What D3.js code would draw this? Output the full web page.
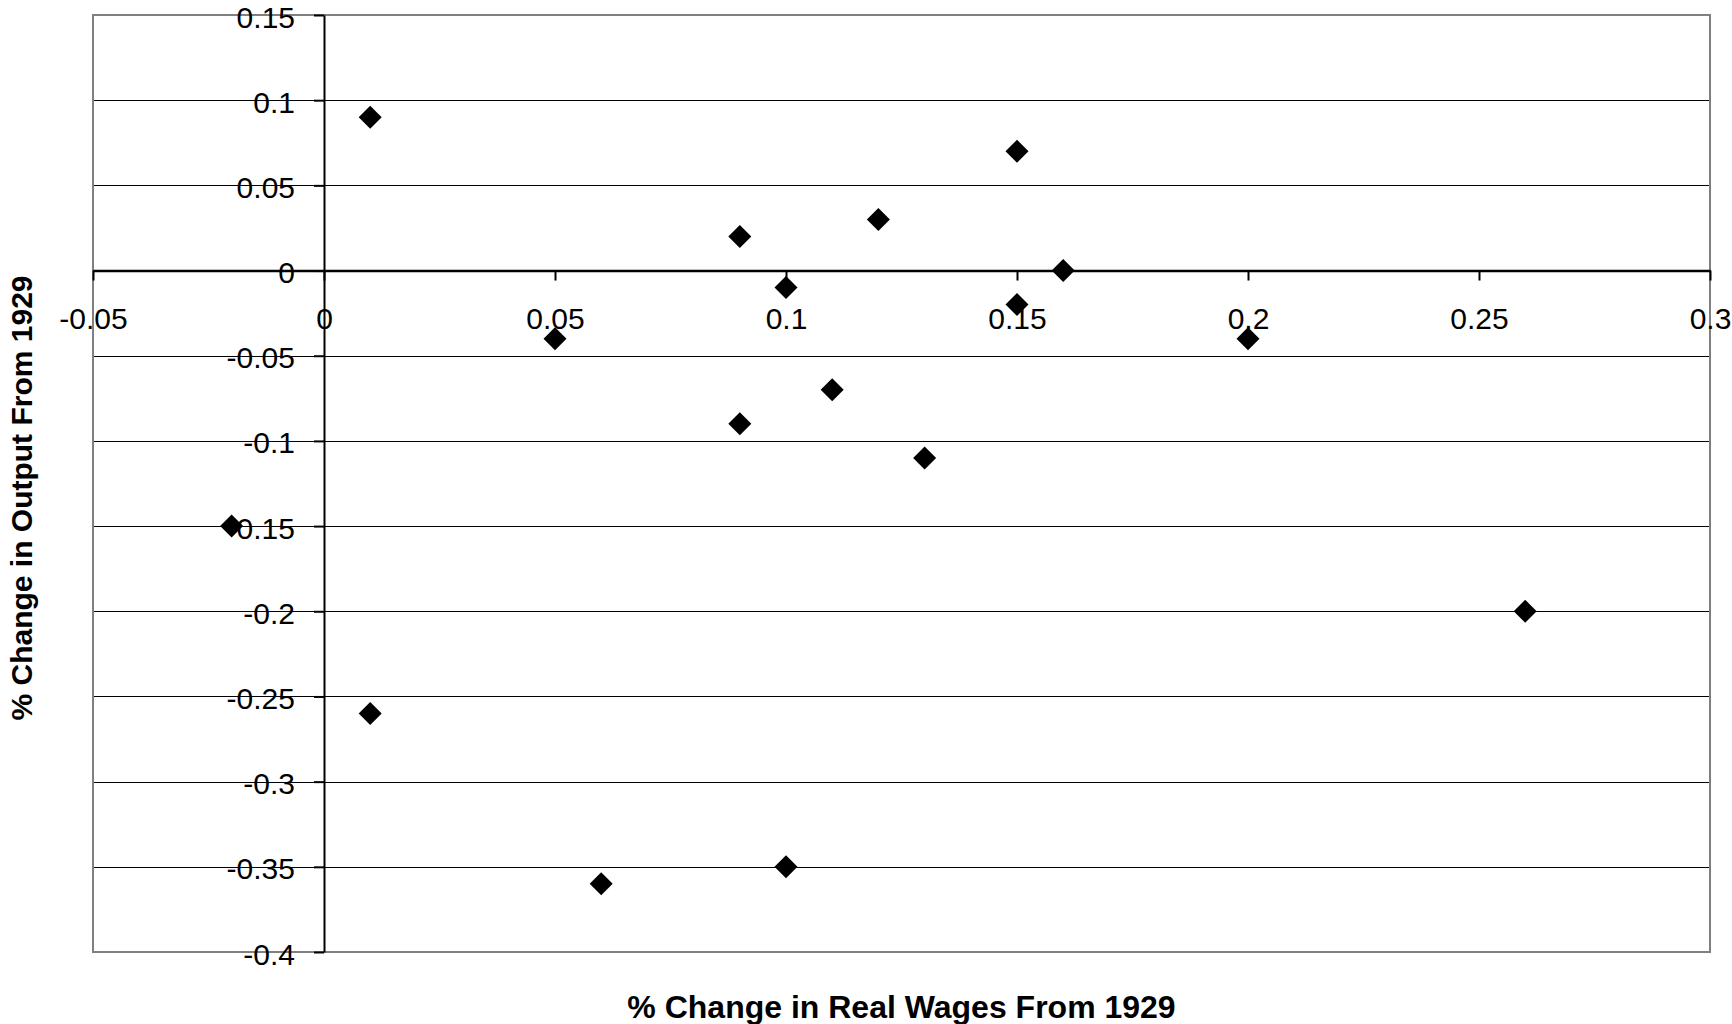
<!DOCTYPE html>
<html>
<head>
  <meta charset="utf-8">
  <script src="https://d3js.org/d3.v7.min.js"></script>
  <style>
    body, html { margin: 0; padding: 0; background: #fff; }
    svg { display: block; font-family: "Liberation Sans", Arial, Helvetica, sans-serif; }
  </style>
</head>
<body>
  <svg></svg>
  <script>
    // % change in real wages vs % change in output, both relative to 1929
    const wageChange   = [0.01, -0.02, 0.01, 0.05, 0.06, 0.09, 0.09, 0.10, 0.10, 0.11, 0.12, 0.13, 0.15, 0.15, 0.16, 0.20, 0.26];
    const outputChange = [0.09, -0.15, -0.26, -0.04, -0.36, 0.02, -0.09, -0.01, -0.35, -0.07, 0.03, -0.11, 0.07, -0.02, 0.00, -0.04, -0.20];
    const xTicks = [-0.05, 0, 0.05, 0.1, 0.15, 0.2, 0.25, 0.3];
    const yTicks = [0.15, 0.1, 0.05, 0, -0.05, -0.1, -0.15, -0.2, -0.25, -0.3, -0.35, -0.4];

    const width = 1732;
    const height = 1024;
    const marginTop = 15;
    const marginRight = 22;
    const marginBottom = 72;
    const marginLeft = 93;

    const points = wageChange.map((w, i) => ({ x: w, y: outputChange[i] }));

    const x = d3.scaleLinear()
      .domain([-0.05, 0.3])
      .range([marginLeft, width - marginRight]);

    const y = d3.scaleLinear()
      .domain([-0.4, 0.15])
      .range([height - marginBottom, marginTop]);

    const svg = d3.select("svg")
      .attr("width", width)
      .attr("height", height)
      .attr("viewBox", [0, 0, width, height]);

    // horizontal gridlines
    svg.append("g")
      .selectAll("line")
      .data(yTicks.filter(d => d !== 0 && d !== 0.15 && d !== -0.4))
      .join("line")
        .attr("x1", x(-0.05))
        .attr("x2", x(0.3))
        .attr("y1", d => Math.round(y(d)) + 0.5)
        .attr("y2", d => Math.round(y(d)) + 0.5)
        .attr("stroke", "#000")
        .attr("stroke-width", 1);

    // plot frame
    svg.append("rect")
      .attr("x", x(-0.05))
      .attr("y", y(0.15))
      .attr("width", x(0.3) - x(-0.05))
      .attr("height", y(-0.4) - y(0.15))
      .attr("fill", "none")
      .attr("stroke", "#808080")
      .attr("stroke-width", 2);

    // x axis through y = 0
    svg.append("g")
      .attr("transform", `translate(0,${y(0)})`)
      .call(d3.axisBottom(x).tickValues(xTicks).tickFormat(d => String(d)).tickSize(10).tickPadding(27).tickSizeOuter(0))
      .call(g => g.select(".domain").attr("stroke-width", 2.5))
      .call(g => g.selectAll(".tick line").attr("stroke-width", 2))
      .call(g => g.selectAll(".tick text").attr("font-size", 30).attr("font-family", null).attr("fill", "#000"));

    // y axis through x = 0
    svg.append("g")
      .attr("transform", `translate(${x(0)},0)`)
      .call(d3.axisLeft(y).tickValues(yTicks).tickFormat(d => String(d)).tickSize(10).tickPadding(19).tickSizeOuter(0))
      .call(g => g.select(".domain").attr("stroke-width", 2))
      .call(g => g.selectAll(".tick line").attr("stroke-width", 2))
      .call(g => g.selectAll(".tick text").attr("font-size", 30).attr("dy", "0.4em").attr("font-family", null).attr("fill", "#000"));

    // diamond markers
    svg.append("g")
      .selectAll("path")
      .data(points)
      .join("path")
        .attr("transform", d => `translate(${x(d.x)},${y(d.y)})`)
        .attr("d", "M0,-11.5L11.5,0L0,11.5L-11.5,0Z")
        .attr("fill", "#000");

    // axis titles
    svg.append("text")
      .attr("x", (x(-0.05) + x(0.3)) / 2)
      .attr("y", 1018)
      .attr("text-anchor", "middle")
      .attr("font-size", 32)
      .attr("font-weight", "bold")
      .text("% Change in Real Wages From 1929");

    svg.append("text")
      .attr("transform", `translate(32,498) rotate(-90)`)
      .attr("text-anchor", "middle")
      .attr("font-size", 30)
      .attr("font-weight", "bold")
      .text("% Change in Output From 1929");
  </script>
</body>
</html>
